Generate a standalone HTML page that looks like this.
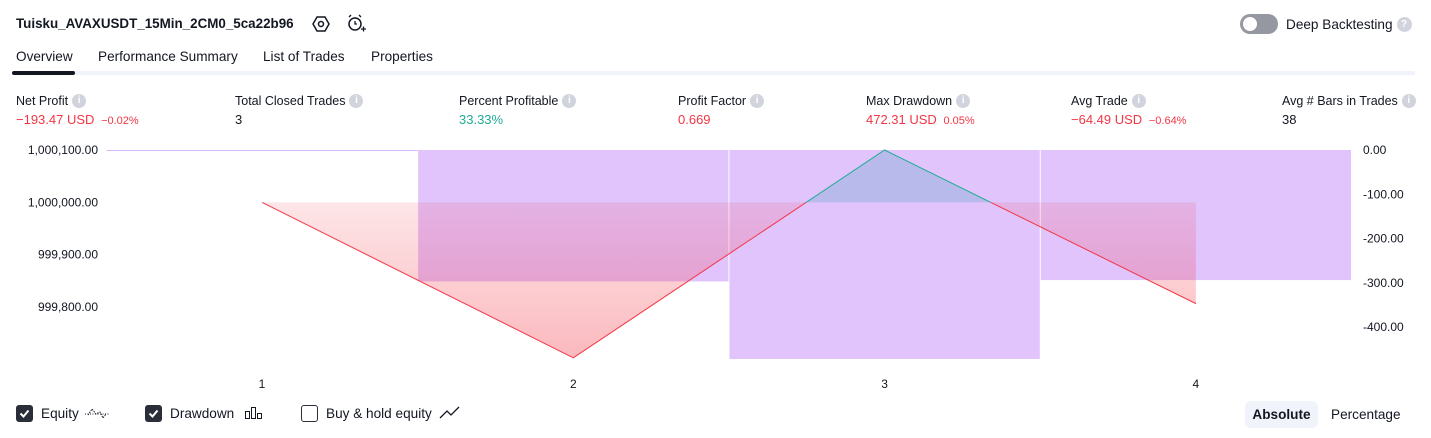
<!DOCTYPE html>
<html><head><meta charset="utf-8">
<style>
*{box-sizing:border-box;margin:0;padding:0}
body{width:1431px;height:438px;background:#fff;font-family:"Liberation Sans",sans-serif;color:#131722;position:relative;overflow:hidden}
.a{position:absolute;white-space:nowrap}
.lbl{font-size:12.5px;color:#131722;height:15px;line-height:15px}
.val{font-size:13px}
.red{color:#f23645}.grn{color:#22ab94}
.small{font-size:11px}
.info{display:inline-block;width:14px;height:14px;border-radius:50%;background:#d1d4dc;color:#fff;font-size:10px;text-align:center;line-height:14px;vertical-align:top;margin-left:4px;font-weight:bold}
.tab{font-size:13.6px;top:49px}
.cb{display:inline-block;width:17px;height:17px;border-radius:3px;background:#2a2e39;vertical-align:-4px;margin-right:8px;position:relative}
.cb.off{background:#fff;border:1.5px solid #2a2e39}
</style></head><body>
<div class="a" style="left:16px;top:16px;font-size:13.4px;font-weight:bold">Tuisku_AVAXUSDT_15Min_2CM0_5ca22b96</div>
<svg class="a" style="left:312px;top:15px" width="18" height="18"><polygon points="5,2 13,2 17,9 13,16 5,16 1,9" fill="none" stroke="#131722" stroke-width="1.5"/><circle cx="9" cy="9" r="2.5" fill="none" stroke="#131722" stroke-width="1.5"/></svg>
<svg class="a" style="left:346px;top:13px" width="20" height="20"><circle cx="9" cy="11" r="6" fill="none" stroke="#131722" stroke-width="1.5"/><path d="M9 8v3h2M3 4l2-2M15 4l-2-2M15 16h5M17.5 13.5v5" stroke="#131722" stroke-width="1.3" fill="none"/></svg>
<div class="a" style="left:1240px;top:14px;width:38px;height:20px;border-radius:10px;background:#9598a1"><div style="position:absolute;left:3px;top:3px;width:14px;height:14px;border-radius:50%;background:#fff"></div></div>
<div class="a" style="left:1286px;top:16px;font-size:13.6px;line-height:17px">Deep Backtesting<span class="info" style="width:15px;height:15px;line-height:15px;margin-top:1px">?</span></div>

<div class="a tab" style="left:16px">Overview</div>
<div class="a tab" style="left:98px">Performance Summary</div>
<div class="a tab" style="left:263px">List of Trades</div>
<div class="a tab" style="left:371px">Properties</div>
<div class="a" style="left:16px;top:71px;width:1399px;height:4px;background:#f0f3fa;border-radius:2px"></div>
<div class="a" style="left:12px;top:71px;width:63px;height:4px;background:#131722;border-radius:2px"></div>

<div class="a" style="left:16px;top:94px"><div class="lbl">Net Profit<span class="info">i</span></div><div class="val red" style="margin-top:3px">−193.47 USD <span class="small">&nbsp;−0.02%</span></div></div>
<div class="a" style="left:235px;top:94px"><div class="lbl">Total Closed Trades<span class="info">i</span></div><div class="val" style="margin-top:3px">3</div></div>
<div class="a" style="left:459px;top:94px"><div class="lbl">Percent Profitable<span class="info">i</span></div><div class="val grn" style="margin-top:3px">33.33%</div></div>
<div class="a" style="left:678px;top:94px"><div class="lbl">Profit Factor<span class="info">i</span></div><div class="val red" style="margin-top:3px">0.669</div></div>
<div class="a" style="left:866px;top:94px"><div class="lbl">Max Drawdown<span class="info">i</span></div><div class="val red" style="margin-top:3px">472.31 USD <span class="small">&nbsp;0.05%</span></div></div>
<div class="a" style="left:1071px;top:94px"><div class="lbl">Avg Trade<span class="info">i</span></div><div class="val red" style="margin-top:3px">−64.49 USD <span class="small">&nbsp;−0.64%</span></div></div>
<div class="a" style="left:1282px;top:94px"><div class="lbl">Avg # Bars in Trades<span class="info">i</span></div><div class="val" style="margin-top:3px">38</div></div>

<svg id="chart" class="a" style="left:0;top:0" width="1431" height="395"></svg>

<div class="a" style="left:16px;top:405px;font-size:13.6px"><span class="cb"><svg width="17" height="17" style="position:absolute;left:0;top:0"><path d="M4.5 8.5l3 3 5-6" stroke="#fff" stroke-width="2" fill="none"/></svg></span>Equity <svg width="24" height="14" style="vertical-align:-2px;margin-left:2px"><path d="M0 8h24" stroke="#131722" stroke-dasharray="1 1.5"/><path d="M3 9l4-6 4 5 4-2 3 6 3-4" stroke="#131722" fill="none" stroke-dasharray="1.5 1"/></svg></div>
<div class="a" style="left:145px;top:405px;font-size:13.6px"><span class="cb"><svg width="17" height="17" style="position:absolute;left:0;top:0"><path d="M4.5 8.5l3 3 5-6" stroke="#fff" stroke-width="2" fill="none"/></svg></span>Drawdown <svg width="20" height="14" style="vertical-align:-2px;margin-left:6px"><rect x="1.5" y="5.5" width="4" height="7" fill="none" stroke="#131722"/><rect x="7.5" y="1.5" width="4" height="11" fill="none" stroke="#131722"/><rect x="13.5" y="7.5" width="4" height="5" fill="none" stroke="#131722"/></svg></div>
<div class="a" style="left:301px;top:405px;font-size:13.6px"><span class="cb off"></span>Buy &amp; hold equity <svg width="22" height="14" style="vertical-align:-2px;margin-left:3px"><path d="M1 12l7-7 4 4 8-8" stroke="#131722" stroke-width="1.3" fill="none"/></svg></div>
<div class="a" style="left:1245px;top:401px;width:73px;height:27px;border-radius:6px;background:#f0f3fa;font-size:13.6px;font-weight:bold;text-align:center;line-height:27px">Absolute</div>
<div class="a" style="left:1331px;top:401px;height:27px;font-size:13.6px;line-height:27px">Percentage</div>

<script>
const trades=[1,2,3,4];
const equity=[1000000,999703,1000100,999806.53];
const drawdown=[0,-297,-472.31,-294];
const leftTicks=[1000100,1000000,999900,999800];
const leftTickLabels=["1,000,100.00","1,000,000.00","999,900.00","999,800.00"];
const rightTicks=[0,-100,-200,-300,-400];
const rightTickLabels=["0.00","-100.00","-200.00","-300.00","-400.00"];
const baseline=1000000;

const NS="http://www.w3.org/2000/svg";
const svg=document.getElementById('chart');
const X=i=>262+(i-1)*311.3;
const YL=v=>150+(1000100-v)*0.5235;
const YR=v=>150-v*0.4425;
const STEP=311.3;
function mk(t,a){const e=document.createElementNS(NS,t);for(const k in a)e.setAttribute(k,a[k]);svg.appendChild(e);return e;}

const defs=mk('defs',{});
defs.innerHTML='<linearGradient id="rg" x1="0" y1="0" x2="0" y2="1" gradientUnits="objectBoundingBox"><stop offset="0" stop-color="#f23645" stop-opacity="0.05"/><stop offset="1" stop-color="#f23645" stop-opacity="0.35"/></linearGradient><clipPath id="below"><rect x="0" y="'+YL(baseline)+'" width="1431" height="400"/></clipPath><clipPath id="above"><rect x="0" y="0" width="1431" height="'+YL(baseline)+'"/></clipPath>';

drawdown.forEach((d,i)=>{
  const x0=X(trades[i])-STEP/2, y1=YR(d);
  if(d===0){
    const l=mk('line',{x1:x0,x2:x0+STEP,y1:YR(0)+0.5,y2:YR(0)+0.5,stroke:'#d9b8fb','stroke-width':1});
    
    
  }else{
    const r=mk('rect',{x:x0+0.5,y:YR(0),width:STEP-1,height:y1-YR(0),fill:'#e1c4fc'});
    
    
  }
});

let pts=trades.map((t,i)=>X(t)+','+YL(equity[i])).join(' ');
const by=YL(baseline);
const poly=pts+' '+X(trades[trades.length-1])+','+by+' '+X(trades[0])+','+by;
const a1=mk('polygon',{points:poly,fill:'url(#rg)','clip-path':'url(#below)'});


const a2=mk('polygon',{points:poly,fill:'#5aa3c8','fill-opacity':0.3,'clip-path':'url(#above)'});


const l1=mk('polyline',{points:pts,fill:'none',stroke:'#f23645','stroke-width':1,'clip-path':'url(#below)'});


const l2=mk('polyline',{points:pts,fill:'none',stroke:'#22ab94','stroke-width':1,'clip-path':'url(#above)'});



leftTicks.forEach((v,i)=>{
  const t=mk('text',{x:98,y:YL(v)+4,'text-anchor':'end','font-size':12,fill:'#131722','font-family':'Liberation Sans'});
  t.textContent=leftTickLabels[i];
  
  
});
rightTicks.forEach((v,i)=>{
  const t=mk('text',{x:1363,y:YR(v)+4,'font-size':12,fill:'#131722','font-family':'Liberation Sans'});
  t.textContent=rightTickLabels[i];
  
  
});
trades.forEach(t=>{
  const e=mk('text',{x:X(t),y:388,'text-anchor':'middle','font-size':12,fill:'#131722','font-family':'Liberation Sans'});
  e.textContent=t;
  
  
});
</script>
</body></html>
